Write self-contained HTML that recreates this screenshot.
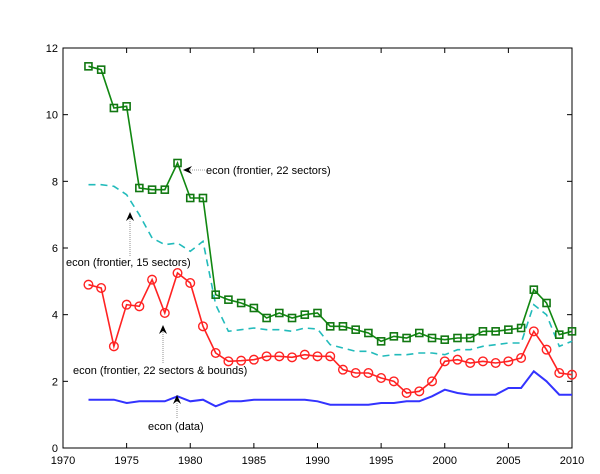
<!DOCTYPE html>
<html><head><meta charset="utf-8"><style>
body{margin:0;background:#fff;}
svg{display:block;font-family:"Liberation Sans",Arial,sans-serif;}
</style></head><body>
<svg id="chart" width="600" height="474"></svg>
<script>
const years=[];for(let y=1972;y<=2010;y++)years.push(y);
const greenVals=[11.45,11.35,10.2,10.25,7.8,7.75,7.75,8.55,7.5,7.5,4.6,4.45,4.35,4.2,3.9,4.05,3.9,4.0,4.05,3.65,3.65,3.55,3.45,3.2,3.35,3.3,3.45,3.3,3.25,3.3,3.3,3.5,3.5,3.55,3.6,4.75,4.35,3.4,3.5];
const redVals=[4.9,4.8,3.05,4.3,4.25,5.05,4.05,5.25,4.95,3.65,2.85,2.6,2.62,2.65,2.75,2.75,2.72,2.8,2.75,2.75,2.35,2.25,2.25,2.1,2.0,1.65,1.7,2.0,2.6,2.65,2.55,2.6,2.55,2.6,2.7,3.5,2.95,2.25,2.2];
const cyanVals=[7.9,7.9,7.85,7.6,7.0,6.3,6.1,6.15,5.9,6.2,4.3,3.5,3.55,3.6,3.55,3.55,3.5,3.6,3.57,3.1,3.0,2.9,2.9,2.75,2.8,2.8,2.85,2.85,2.8,2.95,2.95,3.05,3.1,3.15,3.15,4.3,4.0,3.05,3.2];
const blueVals=[1.45,1.45,1.45,1.35,1.4,1.4,1.4,1.55,1.4,1.45,1.25,1.4,1.4,1.45,1.45,1.45,1.45,1.45,1.4,1.3,1.3,1.3,1.3,1.35,1.35,1.4,1.4,1.55,1.75,1.65,1.6,1.6,1.6,1.8,1.8,2.3,2.0,1.6,1.6];
const xTicks=[1970,1975,1980,1985,1990,1995,2000,2005,2010];
const yTicks=[0,2,4,6,8,10,12];
const L=63,R=572,T=48,B=448;
const xs=v=>L+(v-1970)/40*(R-L);
const ys=v=>B-v/12*(B-T);
const svg=document.getElementById('chart');
const NS='http://www.w3.org/2000/svg';
function mk(tag,attrs,parent){const e=document.createElementNS(NS,tag);for(const k in attrs)e.setAttribute(k,attrs[k]);(parent||svg).appendChild(e);return e;}
const frame=mk('rect',{x:L,y:T,width:R-L,height:B-T,fill:'none',stroke:'#000','stroke-width':1});


xTicks.forEach(t=>{
  const x=xs(t);
  mk('line',{x1:x,y1:B,x2:x,y2:B-5,stroke:'#000'});
  mk('line',{x1:x,y1:T,x2:x,y2:T+5,stroke:'#000'});
  const tx=mk('text',{x:x,y:B+16,'font-size':11,'text-anchor':'middle',fill:'#000'});
  tx.textContent=t;
  
  
});
yTicks.forEach(t=>{
  const y=ys(t);
  mk('line',{x1:L,y1:y,x2:L+5,y2:y,stroke:'#000'});
  mk('line',{x1:R,y1:y,x2:R-5,y2:y,stroke:'#000'});
  const tx=mk('text',{x:L-5,y:y+4,'font-size':11,'text-anchor':'end',fill:'#000'});
  tx.textContent=t;
  
  
});
function pts(vals){return vals.map((v,i)=>xs(years[i]).toFixed(1)+','+ys(v).toFixed(1)).join(' ');}
const lb=mk('polyline',{points:pts(blueVals),fill:'none',stroke:'#3333ff','stroke-width':2});


const lc=mk('polyline',{points:pts(cyanVals),fill:'none',stroke:'#22bbbb','stroke-width':1.6,'stroke-dasharray':'7,5'});


const lr=mk('polyline',{points:pts(redVals),fill:'none',stroke:'#ff2222','stroke-width':1.6});


redVals.forEach((v,i)=>{
  const c=mk('circle',{cx:xs(years[i]),cy:ys(v),r:4.3,fill:'none',stroke:'#ff2222','stroke-width':1.4});
  
  
});
const lg=mk('polyline',{points:pts(greenVals),fill:'none',stroke:'#118811','stroke-width':1.6});


greenVals.forEach((v,i)=>{
  const s=mk('rect',{x:xs(years[i])-3.5,y:ys(v)-3.5,width:7,height:7,fill:'none',stroke:'#117711','stroke-width':1.6});
  
  
});
function ann(name,text,tx,ty,x1,y1,x2,y2){
  const g=mk('g',{});
  
  
  mk('line',{x1:x1,y1:y1,x2:x2,y2:y2,stroke:'#777','stroke-width':0.8,'stroke-dasharray':'1,1'},g);
  const dx=x2-x1,dy=y2-y1,len=Math.hypot(dx,dy),ux=dx/len,uy=dy/len;
  const bx=x2-ux*9,by=y2-uy*9,px=-uy*4,py=ux*4;
  mk('polygon',{points:`${x2},${y2} ${bx+px},${by+py} ${x2-ux*6},${y2-uy*6} ${bx-px},${by-py}`,fill:'#000'},g);
  const t=mk('text',{x:tx,y:ty,'font-size':11,fill:'#000'},g);
  t.textContent=text;
}
ann('annotation-frontier-22','econ (frontier, 22 sectors)',206,174,205,170,183,170);
ann('annotation-frontier-15','econ (frontier, 15 sectors)',66,266,130,256,130,212);
ann('annotation-frontier-22-bounds','econ (frontier, 22 sectors & bounds)',73,374,163,363,163,325);
ann('annotation-data','econ (data)',148,430,177,418,177,395);
</script>
</body></html>
